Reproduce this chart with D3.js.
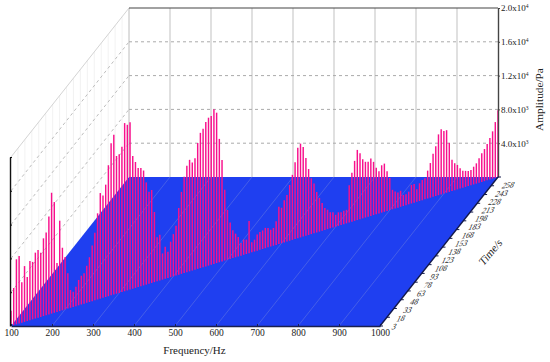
<!DOCTYPE html>
<html>
<head>
<meta charset="utf-8">
<script src="https://cdn.jsdelivr.net/npm/d3@7"></script>
<style>
html, body { margin: 0; padding: 0; background: #fff; }
text { font-family: "Liberation Serif", serif; fill: #222; }
</style>
</head>
<body>
<div id="chart"></div>
<script>
const freqTicks = [100, 200, 300, 400, 500, 600, 700, 800, 900, 1000];
const timeTicks = [3, 18, 33, 48, 63, 78, 93, 108, 123, 138, 153, 168, 183, 198, 213, 228, 243, 258];
const ampTicks = [4000, 8000, 12000, 16000, 20000];
const ampMantissa = ['4.0', '8.0', '1.2', '1.6', '2.0'];
const ampExponent = ['3', '3', '4', '4', '4'];

// one amplitude per 5 Hz step, 100 Hz to 1000 Hz
const amplitudes = [
  1800, 4400, 7700, 8000, 4800, 6600, 5200, 7000, 6800, 7800,
  8000, 7600, 9200, 9800, 11600, 14300, 13100, 5800, 10700, 7400,
  6200, 4200, 2100, 1800, 2300, 3000, 3400, 3600, 4400, 5300,
  6600, 8000, 10200, 12500, 12100, 13300, 15500, 18000, 18900, 16300,
  16400, 17200, 19900, 19600, 19800, 15700, 14900, 14100, 14000, 13600,
  12100, 10900, 11000, 8300, 5200, 5400, 3100, 3800, 3100, 4200,
  5000, 5900, 7900, 9700, 11400, 12600, 13200, 12800, 13200, 14900,
  16000, 16400, 17100, 17500, 17600, 18300, 17800, 14600, 12000, 8400,
  5900, 4300, 3300, 2800, 2300, 1500, 1800, 1700, 3800, 1200,
  1400, 1900, 2100, 2200, 2400, 2300, 2000, 2100, 2800, 4400,
  4200, 5000, 5500, 6600, 7700, 9100, 10700, 11100, 10600, 9200,
  7800, 6600, 5900, 4800, 4000, 3300, 2600, 2300, 1900, 1800,
  1400, 1600, 1500, 1600, 1600, 4400, 5800, 7100, 8300, 7800,
  7000, 6600, 6500, 6800, 6300, 5500, 5000, 5600, 5700, 4700,
  3800, 2300, 2000, 1800, 1900, 1300, 1300, 1500, 2200, 2200,
  1500, 2100, 2400, 2500, 3300, 4100, 5100, 5900, 7200, 7700,
  7400, 7400, 5800, 3700, 3200, 2900, 2400, 2000, 1900, 1800,
  1800, 2100, 2400, 2900, 3400, 3800, 4300, 4900, 5600, 6600,
  7900
];

const width = 550, height = 362;
const svg = d3.select('#chart').append('svg')
  .attr('width', width)
  .attr('height', height)
  .style('display', 'block');

const x = d3.scaleLinear().domain([100, 1000]).range([11, 380]);
const y = d3.scaleLinear().domain([0, 20000]).range([177, 8]);
const depthX = d3.scaleLinear().domain([3, 258]).range([0, 118]);
const depthY = d3.scaleLinear().domain([3, 258]).range([149, 0]);
const barTime = d3.scaleLinear().domain([100, 1000]).range([3, 258]);
const labelX = d3.scaleLinear().domain([3, 258]).range([394, 508]);
const labelY = d3.scaleLinear().domain([3, 258]).range([327.5, 186]);

const px = (f, t) => x(f) + depthX(t);
const py = (t, a) => y(a) + depthY(t);
const tMin = 3, tMax = 258, fMin = 100, fMax = 1000;

function seg(g, x1, y1, x2, y2, color, w, dash) {
  return g.append('line')
    .attr('x1', x1).attr('y1', y1).attr('x2', x2).attr('y2', y2)
    .attr('stroke', color).attr('stroke-width', w)
    .attr('stroke-dasharray', dash || null);
}

// left wall
const leftWall = svg.append('g');
timeTicks.forEach(t => {
  seg(leftWall, px(fMin, t), py(t, 0), px(fMin, t), py(t, 20000), '#efefef', 0.8);
});
seg(leftWall, px(fMin, tMin), py(tMin, 20000), px(fMin, tMax), py(tMax, 20000), '#d4d4d4', 1);
ampTicks.slice(0, 4).forEach(a => {
  seg(leftWall, px(fMin, tMin), py(tMin, a), px(fMin, tMax), py(tMax, a), '#bdbdbd', 1, '3,3');
});

// back wall
const backWall = svg.append('g');
freqTicks.slice(0, 9).forEach(f => {
  seg(backWall, px(f, tMax), y(0), px(f, tMax), y(20000), '#cbcbcb', 1.2);
});
ampTicks.slice(0, 4).forEach(a => {
  seg(backWall, px(fMin, tMax), y(a), px(fMax, tMax), y(a), '#aaaaaa', 1, '3,3');
});
seg(backWall, px(fMin, tMax), y(20000), px(fMax, tMax), y(20000), '#444', 1.2);

// floor
const corners = [[fMin, tMin], [fMax, tMin], [fMax, tMax], [fMin, tMax]]
  .map(c => [px(c[0], c[1]), py(c[1], 0)]);
svg.append('polygon')
  .attr('points', corners.join(' '))
  .attr('fill', '#1f3ff0');

const floorGrid = svg.append('g');
freqTicks.slice(1, 9).forEach(f => {
  seg(floorGrid, px(f, tMin), py(tMin, 0), px(f, tMax), py(tMax, 0), '#4a62e6', 0.9);
});

// bars
const freqs = amplitudes.map((d, i) => fMin + i * 5);
svg.append('g').selectAll('line')
  .data(amplitudes)
  .enter()
  .append('line')
  .attr('x1', (d, i) => px(freqs[i], barTime(freqs[i])))
  .attr('x2', (d, i) => px(freqs[i], barTime(freqs[i])))
  .attr('y1', (d, i) => py(barTime(freqs[i]), 0))
  .attr('y2', (d, i) => py(barTime(freqs[i]), d))
  .attr('stroke', '#f8108c')
  .attr('stroke-width', 1.45);

// axes
const xAxis = svg.append('g')
  .attr('transform', `translate(0,${py(tMin, 0)})`)
  .call(d3.axisBottom(x).tickValues(freqTicks).tickSizeInner(-2).tickSizeOuter(0).tickPadding(3).tickFormat(d3.format('d')));
xAxis.select('.domain').attr('stroke', '#1a2050').attr('stroke-width', 1.4);
xAxis.selectAll('line').attr('stroke', '#1a2050');
xAxis.selectAll('text').attr('font-size', 9.5).attr('fill', '#222');

const ampAxis = svg.append('g')
  .attr('transform', `translate(${px(fMax, tMax)},0)`)
  .call(d3.axisRight(y).tickValues(ampTicks).tickSizeInner(2).tickSizeOuter(0).tickPadding(1).tickFormat(''));
ampAxis.select('.domain').attr('stroke', '#444').attr('stroke-width', 1.4);
ampAxis.selectAll('line').attr('stroke', '#444');
ampAxis.selectAll('.tick text')
  .attr('font-size', 9).attr('fill', '#222')
  .each(function(d, i) {
    const label = d3.select(this);
    label.append('tspan').text(ampMantissa[i] + 'x10');
    label.append('tspan').attr('dy', -3).attr('font-size', 5.5).text(ampExponent[i]);
  });

const leftAxis = svg.append('g')
  .attr('transform', `translate(${px(fMin, tMin) - 1},${depthY(tMin)})`)
  .call(d3.axisRight(y).tickValues(ampTicks).tickSizeInner(2).tickSizeOuter(0).tickFormat(''));
leftAxis.select('.domain').attr('stroke', '#111').attr('stroke-width', 1.4);
leftAxis.selectAll('line').attr('stroke', '#111');

// time axis, runs into the picture so it is built by hand
const timeAxis = svg.append('g');
seg(timeAxis, px(fMax, tMin), py(tMin, 0), px(fMax, tMax), py(tMax, 0), '#12184a', 1.4);
timeTicks.forEach(t => {
  seg(timeAxis, px(fMax, t), py(t, 0), px(fMax, t) + 3, py(t, 0), '#12184a', 1);
  timeAxis.append('text')
    .attr('transform', `translate(${labelX(t)},${labelY(t)}) rotate(-5) skewX(-30)`)
    .attr('text-anchor', 'middle')
    .attr('dominant-baseline', 'middle')
    .attr('font-size', 8)
    .text(t);
});

// titles
svg.append('text')
  .attr('x', 194.5).attr('y', 354)
  .attr('text-anchor', 'middle')
  .attr('font-size', 11)
  .text('Frequency/Hz');
svg.append('text')
  .attr('transform', 'translate(543,99.5) rotate(-90)')
  .attr('text-anchor', 'middle')
  .attr('font-size', 11.3)
  .text('Amplitude/Pa');
svg.append('text')
  .attr('transform', 'translate(493,255) rotate(-50) skewX(-10)')
  .attr('text-anchor', 'middle')
  .attr('font-size', 11)
  .text('Time/s');
</script>
</body>
</html>
